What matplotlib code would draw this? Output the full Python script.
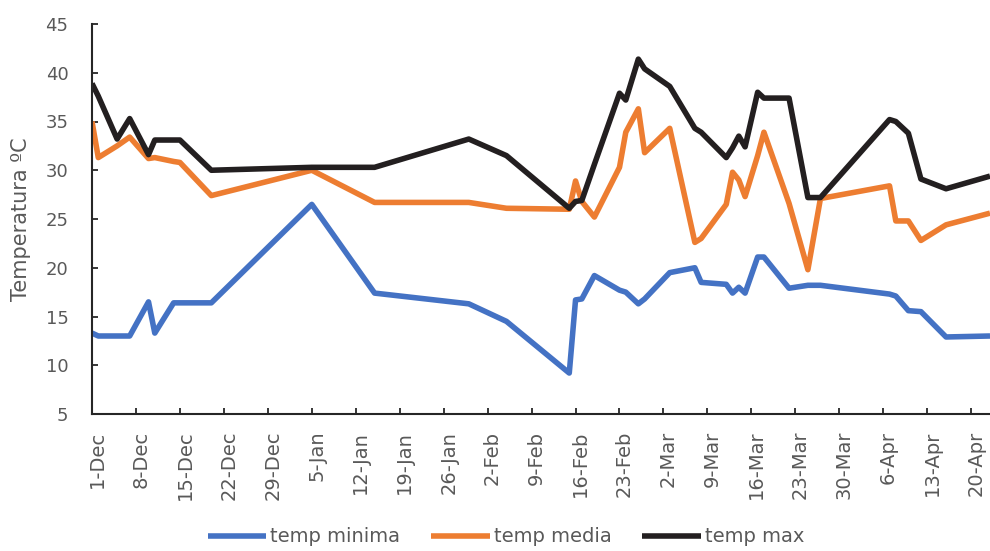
import pandas as pd
import matplotlib
matplotlib.use('Agg')
from matplotlib import pyplot as plt
import matplotlib.dates as mdates
from matplotlib.transforms import ScaledTranslation

fechas = ['2018-12-01', '2018-12-02', '2018-12-05', '2018-12-07', '2018-12-10',
          '2018-12-11', '2018-12-14', '2018-12-15', '2018-12-20', '2019-01-05',
          '2019-01-15', '2019-01-30', '2019-02-05', '2019-02-15', '2019-02-16',
          '2019-02-17', '2019-02-19', '2019-02-23', '2019-02-24', '2019-02-26',
          '2019-02-27', '2019-03-03', '2019-03-07', '2019-03-08', '2019-03-12',
          '2019-03-13', '2019-03-14', '2019-03-15', '2019-03-17', '2019-03-18',
          '2019-03-22', '2019-03-25', '2019-03-27', '2019-04-07', '2019-04-08',
          '2019-04-10', '2019-04-12', '2019-04-16', '2019-04-23']

temp_minima = [13.3, 13.0, 13.0, 13.0, 16.5, 13.3, 16.4, 16.4, 16.4, 26.5,
               17.4, 16.3, 14.5, 9.2, 16.7, 16.8, 19.2, 17.7, 17.5, 16.3,
               16.8, 19.5, 20.0, 18.5, 18.3, 17.4, 18.0, 17.4, 21.1, 21.1,
               17.9, 18.2, 18.2, 17.3, 17.1, 15.6, 15.5, 12.9, 13.0]

temp_media = [35.0, 31.3, 32.5, 33.4, 31.2, 31.3, 30.9, 30.8, 27.4, 30.0,
              26.7, 26.7, 26.1, 26.0, 28.9, 26.8, 25.2, 30.3, 33.9, 36.3,
              31.8, 34.3, 22.6, 23.0, 26.5, 29.8, 29.0, 27.3, 31.5, 33.9,
              26.6, 19.8, 27.1, 28.4, 24.8, 24.8, 22.8, 24.4, 25.6]

temp_max = [38.9, 37.6, 33.2, 35.3, 31.6, 33.1, 33.1, 33.1, 30.0, 30.3,
            30.3, 33.2, 31.5, 26.1, 26.8, 26.9, 30.6, 37.9, 37.2, 41.4,
            40.4, 38.6, 34.3, 33.9, 31.3, 32.3, 33.5, 32.4, 38.0, 37.4,
            37.4, 27.2, 27.2, 35.2, 35.0, 33.8, 29.1, 28.1, 29.4]

series = [('temp minima', temp_minima, '#4472C4'),
          ('temp media', temp_media, '#ED7D31'),
          ('temp max', temp_max, '#231F20')]

gris = '#595959'
x = pd.to_datetime(fechas)

fig = plt.figure(figsize=(9.9, 5.51), dpi=100)
ax = fig.add_axes([92/990, 1 - 414/551, 1 - 92/990, 390/551])

for nombre, valores, color in series:
    ax.plot(x, valores, color=color, lw=4, label=nombre,
            solid_joinstyle='round', solid_capstyle='butt')

ax.set_xlim(x[0], x[-1])
ax.set_ylim(5, 45)
ax.set_yticks(range(5, 50, 5))
ax.set_xticks(pd.date_range(x[0], x[-1], freq='7D'))
ax.xaxis.set_major_formatter(mdates.DateFormatter('%-d-%b'))

for lado in ['top', 'right']:
    ax.spines[lado].set_visible(False)
for lado in ['left', 'bottom']:
    ax.spines[lado].set_color('#262626')
    ax.spines[lado].set_linewidth(1.5)

ax.tick_params(axis='both', direction='in', length=4, width=1.3,
               color='#262626', labelcolor=gris, labelsize=13)
ax.tick_params(axis='y', pad=17)
ax.tick_params(axis='x', pad=12, labelsize=14)
for lab in ax.get_xticklabels():
    lab.set_rotation(90)
    lab.set_transform(lab.get_transform() + ScaledTranslation(5/100, 0, fig.dpi_scale_trans))

ax.set_ylabel('Temperatura ºC', fontsize=15, color=gris, labelpad=10)

# leyenda abajo, casi pegada al borde como en el original
fig.legend(loc='center', bbox_to_anchor=(506/990, 14/551), ncol=3, frameon=False,
           fontsize=14, labelcolor=gris, handlelength=3, handletextpad=0.2,
           columnspacing=1.6)

fig.savefig('out.png', dpi=100)
